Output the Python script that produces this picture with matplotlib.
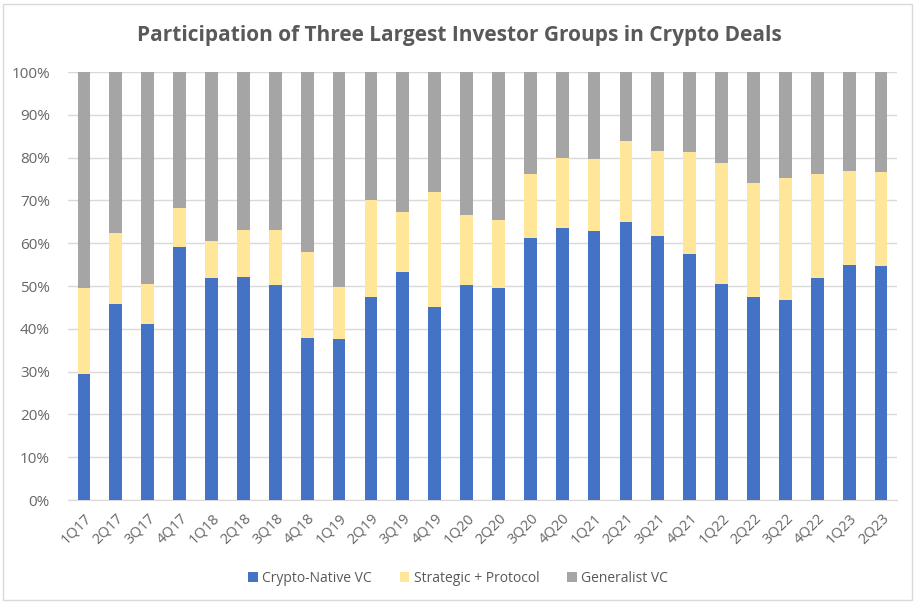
import matplotlib
matplotlib.use("Agg")
import matplotlib.pyplot as plt
from matplotlib.ticker import PercentFormatter
import numpy as np

quarters = ["1Q17","2Q17","3Q17","4Q17","1Q18","2Q18","3Q18","4Q18","1Q19","2Q19",
            "3Q19","4Q19","1Q20","2Q20","3Q20","4Q20","1Q21","2Q21","3Q21","4Q21",
            "1Q22","2Q22","3Q22","4Q22","1Q23","2Q23"]
crypto_native = [29.5,45.7,41.2,59.0,51.8,52.2,50.3,37.8,37.6,47.5,
                 53.3,45.0,50.3,49.5,61.3,63.5,62.8,65.0,61.7,57.5,
                 50.5,47.5,46.8,51.8,54.8,54.6]
strategic = [20.0,16.6,9.3,9.2,8.7,11.0,12.7,20.2,12.1,22.7,
             13.9,27.0,16.4,16.0,14.9,16.5,16.9,18.8,19.8,23.8,
             28.2,26.5,28.5,24.4,22.0,22.0]
generalist = [100 - a - b for a, b in zip(crypto_native, strategic)]

plt.rcParams['font.family'] = ['Open Sans', 'DejaVu Sans']
fig = plt.figure(figsize=(9.16, 6.03), dpi=100)
ax = fig.add_axes([68/916, 1 - 500/603, (897-68)/916, (500-72)/603])

x = np.arange(len(quarters))
w = 0.4
ax.bar(x, crypto_native, w, color="#4472C4", label="Crypto-Native VC", zorder=3)
ax.bar(x, strategic, w, bottom=crypto_native, color="#FFE699", label="Strategic + Protocol", zorder=3)
bot2 = [a + b for a, b in zip(crypto_native, strategic)]
ax.bar(x, generalist, w, bottom=bot2, color="#A5A5A5", label="Generalist VC", zorder=3)

ax.set_xlim(-0.5, len(quarters) - 0.5)
ax.set_ylim(0, 100)
ax.set_yticks(np.arange(0, 101, 10))
ax.yaxis.set_major_formatter(PercentFormatter(decimals=0))
ax.grid(axis='y', color="#D9D9D9", linewidth=1, zorder=0)
ax.set_xticks(x)
ax.set_xticklabels(quarters, rotation=45, ha='right', rotation_mode='anchor')
ax.tick_params(axis='both', length=0, colors="#666666", labelsize=10.5)
ax.tick_params(axis='x', pad=8)
ax.tick_params(axis='y', pad=13, labelsize=11)
for s in ['top', 'right', 'left']:
    ax.spines[s].set_visible(False)
ax.spines['bottom'].set_color("#D9D9D9")

fig.text(0.502, 1 - 36/603, "Participation of Three Largest Investor Groups in Crypto Deals",
         ha='center', va='center', fontsize=15, fontweight='bold', color="#595959")

leg = fig.legend(loc='center', bbox_to_anchor=(0.5, 1 - 578/603), ncol=3, frameon=False,
                 fontsize=10, handlelength=0.7, handleheight=0.7, columnspacing=2.0,
                 handletextpad=0.3)
for t in leg.get_texts():
    t.set_color("#595959")

border = plt.Rectangle((3/916, 3/603), 1 - 7/916, 1 - 7/603, transform=fig.transFigure,
                       fill=False, edgecolor="#D9D9D9", linewidth=1)
fig.patches.append(border)

fig.savefig("out.png", dpi=100, facecolor="white")
